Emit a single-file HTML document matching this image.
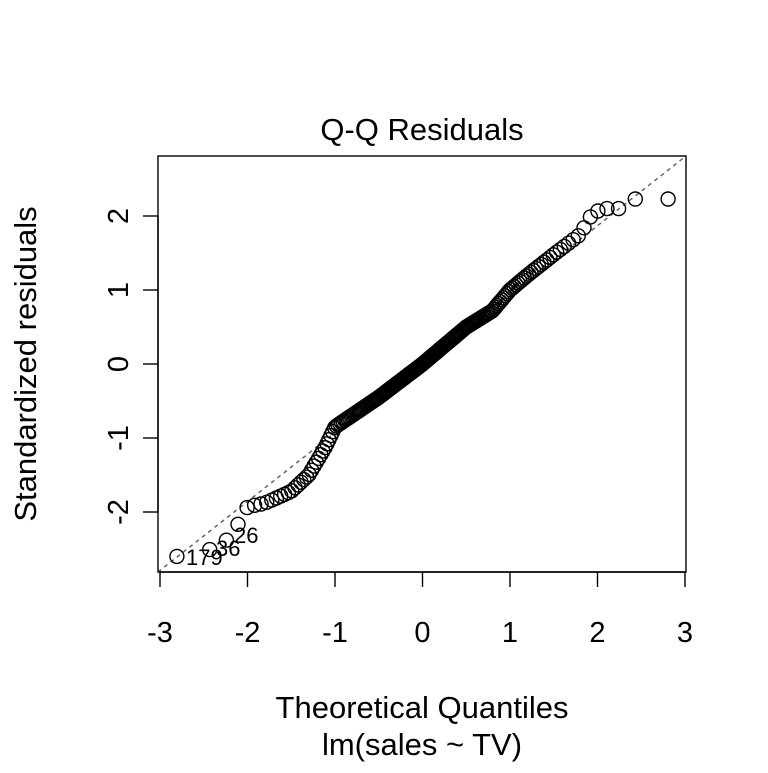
<!DOCTYPE html>
<html><head><meta charset="utf-8"><style>
body{margin:0;background:#fff}
text{font-family:"Liberation Sans",Arial,sans-serif;fill:#000}
</style></head><body>
<svg id="s" width="768" height="768" xmlns="http://www.w3.org/2000/svg">
<rect width="768" height="768" fill="#fff"/>
<text x="422" y="140" font-size="31" text-anchor="middle">Q-Q Residuals</text>
<defs><clipPath id="c"><rect x="158" y="156" width="528" height="416"/></clipPath></defs>
<line x1="158" y1="572" x2="686" y2="156" stroke="#666" stroke-width="1.5" stroke-dasharray="4,4" clip-path="url(#c)"/>
<g id="pts" fill="none" stroke="#000" stroke-width="1.4"></g>
<rect x="158" y="156" width="528" height="416" fill="none" stroke="#000" stroke-width="1.4"/>
<g stroke="#000" stroke-width="1.4">
<line x1="160" y1="572" x2="685" y2="572"/>
<line x1="160" y1="572" x2="160" y2="587"/><line x1="247.5" y1="572" x2="247.5" y2="587"/>
<line x1="335" y1="572" x2="335" y2="587"/><line x1="422.5" y1="572" x2="422.5" y2="587"/>
<line x1="510" y1="572" x2="510" y2="587"/><line x1="597.5" y1="572" x2="597.5" y2="587"/>
<line x1="685" y1="572" x2="685" y2="587"/>
<line x1="158" y1="216" x2="158" y2="512"/>
<line x1="143" y1="216" x2="158" y2="216"/><line x1="143" y1="290" x2="158" y2="290"/>
<line x1="143" y1="364" x2="158" y2="364"/><line x1="143" y1="438" x2="158" y2="438"/>
<line x1="143" y1="512" x2="158" y2="512"/>
</g>
<g font-size="29" text-anchor="middle">
<text x="160" y="642">-3</text><text x="247.5" y="642">-2</text><text x="335" y="642">-1</text>
<text x="422.5" y="642">0</text><text x="510" y="642">1</text><text x="597.5" y="642">2</text><text x="685" y="642">3</text>
<text transform="translate(128,216) rotate(-90)">2</text>
<text transform="translate(128,290) rotate(-90)">1</text>
<text transform="translate(128,364) rotate(-90)">0</text>
<text transform="translate(128,438) rotate(-90)">-1</text>
<text transform="translate(128,512) rotate(-90)">-2</text>
</g>
<text x="422" y="718" font-size="31" text-anchor="middle">Theoretical Quantiles</text>
<text x="422" y="755" font-size="31" text-anchor="middle">lm(sales ~ TV)</text>
<text transform="translate(36,364) rotate(-90)" font-size="31" text-anchor="middle">Standardized residuals</text>
<g font-size="22">
<text x="186" y="565">179</text><text x="216" y="556">36</text><text x="234" y="543">26</text>
</g>
</svg>
<script>
function qn(p){var a=[-39.69683028665376,220.9460984245205,-275.9285104469687,138.357751867269,-30.66479806614716,2.506628277459239],
b=[-54.47609879822406,161.5858368580409,-155.6989798598866,66.80131188771972,-13.28068155288572],
c=[-0.007784894002430293,-0.3223964580411365,-2.400758277161838,-2.549732539343734,4.374664141464968,2.938163982698783],
d=[0.007784695709041462,0.3224671290700398,2.445134137142996,3.754408661907416],q,r;
if(p<0.02425){q=Math.sqrt(-2*Math.log(p));return(((((c[0]*q+c[1])*q+c[2])*q+c[3])*q+c[4])*q+c[5])/((((d[0]*q+d[1])*q+d[2])*q+d[3])*q+1);}
if(p>1-0.02425)return -qn(1-p);
q=p-0.5;r=q*q;return(((((a[0]*r+a[1])*r+a[2])*r+a[3])*r+a[4])*r+a[5])*q/(((((b[0]*r+b[1])*r+b[2])*r+b[3])*r+b[4])*r+1);}
var K=[[-2.8,-2.6],[-2.4,-2.5],[-2.2,-2.35],[-2.1,-2.15],[-2,-1.93],[-1.8,-1.88],[-1.5,-1.72],[-1.3,-1.5],[-1.1,-1.1],[-1,-0.85],[-0.5,-0.45],[0,0],[0.5,0.5],[0.8,0.72],[1,1.0],[1.2,1.2],[1.5,1.48],[1.8,1.75],[1.95,2.05],[2.1,2.1],[2.25,2.1],[2.43,2.23],[2.8,2.23]];
function f(x){if(x<=K[0][0])return K[0][1];for(var i=1;i<K.length;i++){if(x<=K[i][0]){var t=(x-K[i-1][0])/(K[i][0]-K[i-1][0]);return K[i-1][1]+t*(K[i][1]-K[i-1][1]);}}return K[K.length-1][1];}
var g=document.getElementById('pts'),h='';
for(var i=1;i<=200;i++){var x=qn((i-0.5)/200),y=f(x);h+='<circle cx="'+(422.5+x*87.5).toFixed(1)+'" cy="'+(364-y*74).toFixed(1)+'" r="7"/>';}
g.innerHTML=h;
</script>
</body></html>
